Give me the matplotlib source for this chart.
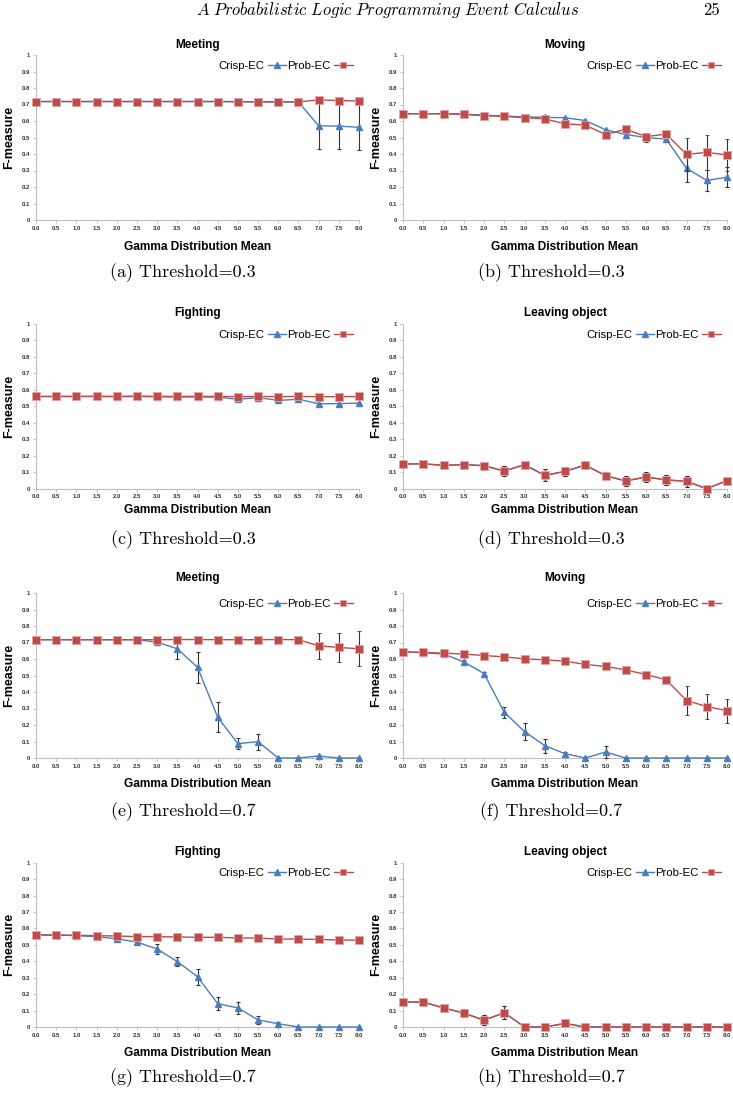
import matplotlib
matplotlib.use("Agg")
import matplotlib.pyplot as plt
from matplotlib.lines import Line2D

plt.rcParams['font.family'] = ['Liberation Sans', 'DejaVu Sans']
plt.rcParams['mathtext.fontset'] = 'cm'

# Daten: Gamma-Mittelwerte und F-measure Werte
means = [0.0, 0.5, 1.0, 1.5, 2.0, 2.5, 3.0, 3.5, 4.0, 4.5, 5.0, 5.5, 6.0, 6.5, 7.0, 7.5, 8.0]
mean_labels = ["0.0", "0.5", "1.0", "1.5", "2.0", "2.5", "3.0", "3.5", "4.0",
               "4.5", "5.0", "5.5", "6.0", "6.5", "7.0", "7.5", "8.0"]
y_labels = ["0", "0.1", "0.2", "0.3", "0.4", "0.5", "0.6", "0.7", "0.8", "0.9", "1"]

# (a) Meeting, threshold 0.3
crisp_a = [0.718, 0.718, 0.718, 0.718, 0.718, 0.718, 0.718, 0.718, 0.718, 0.718, 0.717, 0.716, 0.716, 0.715, 0.571, 0.569, 0.562]
crisp_a_err = [0, 0, 0, 0, 0, 0, 0, 0, 0, 0, 0, 0, 0, 0, 0.14, 0.14, 0.14]
prob_a = [0.718, 0.718, 0.718, 0.718, 0.718, 0.718, 0.718, 0.718, 0.718, 0.718, 0.717, 0.716, 0.716, 0.716, 0.728, 0.724, 0.721]
prob_a_err = [0] * 17

# (b) Moving, threshold 0.3
crisp_b = [0.644, 0.644, 0.644, 0.642, 0.635, 0.63, 0.625, 0.622, 0.62, 0.603, 0.547, 0.518, 0.5, 0.49, 0.313, 0.24, 0.259]
crisp_b_err = [0, 0, 0, 0, 0, 0, 0, 0, 0, 0, 0, 0.02, 0.025, 0.015, 0.085, 0.065, 0.062]
prob_b = [0.644, 0.644, 0.644, 0.64, 0.632, 0.628, 0.62, 0.613, 0.583, 0.575, 0.518, 0.55, 0.506, 0.52, 0.398, 0.41, 0.394]
prob_b_err = [0, 0, 0, 0, 0, 0, 0, 0, 0, 0, 0, 0.02, 0.02, 0.01, 0.1, 0.105, 0.095]

# (c) Fighting, threshold 0.3
crisp_c = [0.56, 0.56, 0.56, 0.56, 0.559, 0.56, 0.558, 0.557, 0.557, 0.556, 0.543, 0.553, 0.536, 0.543, 0.516, 0.516, 0.52]
crisp_c_err = [0] * 17
prob_c = [0.56, 0.56, 0.56, 0.561, 0.56, 0.562, 0.561, 0.56, 0.561, 0.56, 0.559, 0.56, 0.559, 0.56, 0.559, 0.559, 0.56]
prob_c_err = [0] * 17

# (d) Leaving object, threshold 0.3 (beide Kurven gleich)
crisp_d = [0.15, 0.151, 0.142, 0.146, 0.14, 0.107, 0.146, 0.081, 0.105, 0.144, 0.079, 0.047, 0.071, 0.053, 0.045, 0.0, 0.049]
crisp_d_err = [0.005, 0.005, 0.005, 0.005, 0.008, 0.03, 0.008, 0.036, 0.028, 0.006, 0.02, 0.03, 0.03, 0.032, 0.032, 0.0, 0.018]
prob_d = [0.15, 0.151, 0.142, 0.146, 0.14, 0.107, 0.146, 0.081, 0.105, 0.144, 0.079, 0.047, 0.071, 0.053, 0.045, 0.0, 0.049]
prob_d_err = [0.005, 0.005, 0.005, 0.005, 0.008, 0.03, 0.008, 0.036, 0.028, 0.006, 0.02, 0.03, 0.03, 0.032, 0.032, 0.0, 0.018]

# (e) Meeting, threshold 0.7
crisp_e = [0.717, 0.717, 0.717, 0.717, 0.717, 0.717, 0.702, 0.662, 0.55, 0.247, 0.087, 0.099, 0.0, 0.0, 0.012, 0.0, 0.0]
crisp_e_err = [0, 0, 0, 0, 0, 0, 0, 0.06, 0.095, 0.09, 0.032, 0.048, 0, 0, 0.005, 0, 0]
prob_e = [0.717, 0.717, 0.717, 0.717, 0.717, 0.717, 0.717, 0.718, 0.718, 0.717, 0.717, 0.717, 0.718, 0.717, 0.68, 0.67, 0.662]
prob_e_err = [0, 0, 0, 0, 0, 0, 0, 0, 0, 0, 0, 0, 0, 0, 0.08, 0.09, 0.107]

# (f) Moving, threshold 0.7
crisp_f = [0.644, 0.638, 0.63, 0.583, 0.512, 0.277, 0.16, 0.075, 0.026, 0.0, 0.036, 0.0, 0.0, 0.0, 0.0, 0.0, 0.0]
crisp_f_err = [0, 0, 0, 0.01, 0.008, 0.032, 0.05, 0.042, 0.01, 0, 0.038, 0, 0, 0, 0, 0, 0]
prob_f = [0.644, 0.64, 0.636, 0.63, 0.621, 0.613, 0.601, 0.595, 0.587, 0.567, 0.555, 0.534, 0.506, 0.474, 0.348, 0.312, 0.287]
prob_f_err = [0, 0, 0, 0, 0, 0, 0, 0, 0, 0, 0, 0, 0, 0, 0.087, 0.077, 0.073]

# (g) Fighting, threshold 0.7
crisp_g = [0.56, 0.56, 0.556, 0.55, 0.537, 0.517, 0.475, 0.398, 0.306, 0.142, 0.116, 0.043, 0.02, 0.0, 0.0, 0.0, 0.0]
crisp_g_err = [0, 0, 0, 0, 0, 0.005, 0.028, 0.026, 0.05, 0.038, 0.034, 0.024, 0.01, 0, 0, 0, 0]
prob_g = [0.56, 0.56, 0.558, 0.556, 0.554, 0.55, 0.55, 0.548, 0.546, 0.546, 0.542, 0.542, 0.535, 0.535, 0.533, 0.529, 0.529]
prob_g_err = [0] * 17

# (h) Leaving object, threshold 0.7 (beide Kurven gleich)
crisp_h = [0.152, 0.152, 0.116, 0.085, 0.041, 0.087, 0.0, 0.0, 0.022, 0.0, 0.0, 0.0, 0.0, 0.0, 0.0, 0.0, 0.0]
crisp_h_err = [0.005, 0.005, 0.008, 0.024, 0.03, 0.04, 0, 0, 0.01, 0, 0, 0, 0, 0, 0, 0, 0]
prob_h = [0.152, 0.152, 0.116, 0.085, 0.041, 0.087, 0.0, 0.0, 0.022, 0.0, 0.0, 0.0, 0.0, 0.0, 0.0, 0.0, 0.0]
prob_h_err = [0.005, 0.005, 0.008, 0.024, 0.03, 0.04, 0, 0, 0.01, 0, 0, 0, 0, 0, 0, 0, 0]

panels = [
    ("Meeting", "(a) Threshold=0.3", crisp_a, crisp_a_err, prob_a, prob_a_err),
    ("Moving", "(b) Threshold=0.3", crisp_b, crisp_b_err, prob_b, prob_b_err),
    ("Fighting", "(c) Threshold=0.3", crisp_c, crisp_c_err, prob_c, prob_c_err),
    ("Leaving object", "(d) Threshold=0.3", crisp_d, crisp_d_err, prob_d, prob_d_err),
    ("Meeting", "(e) Threshold=0.7", crisp_e, crisp_e_err, prob_e, prob_e_err),
    ("Moving", "(f) Threshold=0.7", crisp_f, crisp_f_err, prob_f, prob_f_err),
    ("Fighting", "(g) Threshold=0.7", crisp_g, crisp_g_err, prob_g, prob_g_err),
    ("Leaving object", "(h) Threshold=0.7", crisp_h, crisp_h_err, prob_h, prob_h_err),
]

W, H = 733, 1093
fig = plt.figure(figsize=(W / 100, H / 100), dpi=100)

blue = "#4A7EBB"
red = "#BE4B48"
grey = "#BFBFBF"

cols = [(36, 359), (403, 727)]
rows = [(55, 220), (324, 488.7), (593, 758), (862.7, 1027)]
title_y = [45, 313, 578, 852]
xlab_y = [247, 510, 784, 1053]
cap_y = [273, 540, 812, 1078]
cap_x = [183, 551]

for i, (name, caption, crisp, crisp_err, prob, prob_err) in enumerate(panels):
    r = i // 2
    c = i % 2
    x0, x1 = cols[c]
    top, bot = rows[r]
    ax = fig.add_axes([x0 / W, 1 - bot / H, (x1 - x0) / W, (bot - top) / H])

    ax.errorbar(means, crisp, yerr=crisp_err, color=blue, lw=1.0, marker="^", ms=5,
                mec=blue, mfc=blue, ecolor="#333333", elinewidth=0.8, capsize=1.5,
                capthick=0.8, clip_on=False, zorder=3)
    ax.errorbar(means, prob, yerr=prob_err, color=red, lw=1.0, marker="s", ms=5.5,
                mec="#E2A6A4", mew=0.6, mfc=red, ecolor="#333333", elinewidth=0.8,
                capsize=1.5, capthick=0.8, clip_on=False, zorder=4)

    ax.set_xlim(0, 8)
    ax.set_ylim(0, 1)
    ax.set_xticks(means)
    ax.set_xticklabels(mean_labels)
    ax.set_yticks([k / 10 for k in range(11)])
    ax.set_yticklabels(y_labels)
    for lab in ax.get_xticklabels() + ax.get_yticklabels():
        lab.set_fontsize(4.3)
        lab.set_fontweight("bold")
        lab.set_color("#333333")
    ax.tick_params(axis="both", length=2, width=0.6, color=grey, pad=2)
    ax.spines["top"].set_visible(False)
    ax.spines["right"].set_visible(False)
    ax.spines["left"].set_color(grey)
    ax.spines["bottom"].set_color(grey)
    ax.spines["left"].set_linewidth(0.8)
    ax.spines["bottom"].set_linewidth(0.8)

    # Legende: erst Text, dann Symbol
    handles = [Line2D([], [], color=blue, lw=1.0, marker="^", ms=4, mfc=blue, mec=blue),
               Line2D([], [], color=red, lw=1.0, marker="s", ms=4, mfc=red, mec="#E2A6A4", mew=0.5)]
    ax.legend(handles, ["Crisp-EC", "Prob-EC"], loc="center right",
              bbox_to_anchor=(0.98, 0.935), ncol=2, frameon=False, markerfirst=False,
              fontsize=8.2, handlelength=1.6, handletextpad=0.3, columnspacing=0.15,
              borderpad=0, borderaxespad=0)

    cx = (x0 + x1) / 2
    fig.text(cx / W, 1 - title_y[r] / H, name, ha="center", va="center",
             fontsize=8.5, fontweight="bold")
    fig.text(cx / W, 1 - xlab_y[r] / H, "Gamma Distribution Mean", ha="center",
             va="center", fontsize=8.6, fontweight="bold")
    fig.text((x0 - 27) / W, 1 - (top + bot) / 2 / H, "F-measure", rotation=90,
             ha="center", va="center", fontsize=9, fontweight="bold")
    fig.text(cap_x[c] / W, 1 - cap_y[r] / H, caption, ha="center", va="center",
             fontsize=13, family="cmr10")

# Kopfzeile
fig.text(388 / W, 1 - 10 / H,
         r"$\mathit{A\ Probabilistic\ Logic\ Programming\ Event\ Calculus}$",
         ha="center", va="center", fontsize=12)
fig.text(712 / W, 1 - 10 / H, "25", ha="center", va="center", fontsize=12, family="cmr10")

fig.savefig("out.png", dpi=100)
